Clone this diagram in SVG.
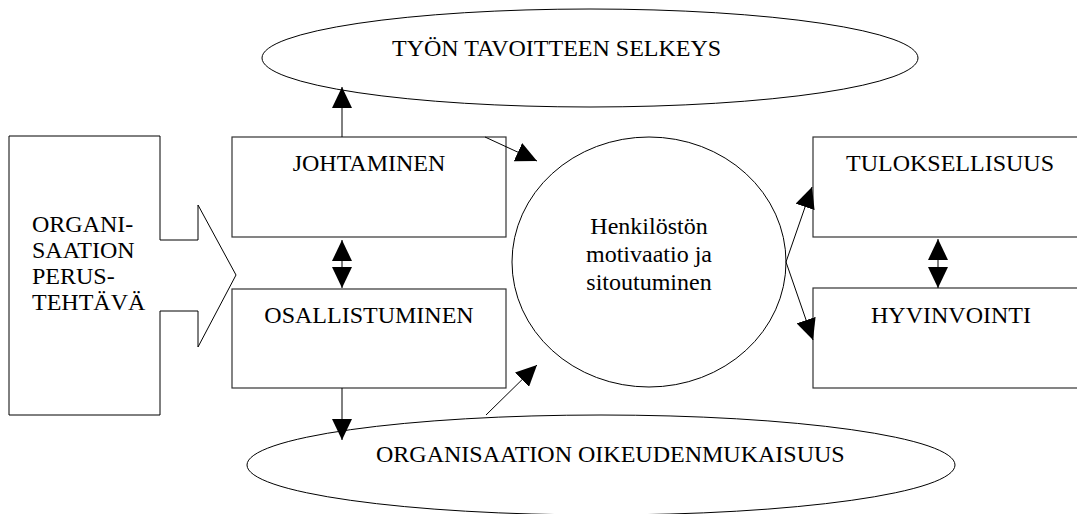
<svg xmlns="http://www.w3.org/2000/svg" width="1077" height="514" viewBox="0 0 1077 514">
  <style>
    .shape { fill: #ffffff; stroke: #000000; stroke-width: 1; }
    .box { fill: #ffffff; stroke: #333333; stroke-width: 1.2; }
    text { font-family: "Liberation Serif", "DejaVu Serif", serif; font-size: 24px; fill: #000000; }
    .mid { text-anchor: middle; }
    .conn { stroke: #000000; stroke-width: 1; fill: none; }
  </style>
  <defs>
    <marker id="head" markerUnits="userSpaceOnUse" markerWidth="21" markerHeight="20" refX="21" refY="10" orient="auto-start-reverse">
      <path d="M0,0 L21,10 L0,20 z" fill="#000000"/>
    </marker>
  </defs>

  <rect width="1077" height="514" fill="#ffffff"/>

  <g font-family="Liberation Serif, DejaVu Serif, serif" font-size="24">
    <!-- top goal ellipse -->
    <g id="node-tavoite">
      <ellipse class="shape" cx="590" cy="58" rx="328" ry="49"/>
      <text x="392" y="56">TYÖN TAVOITTEEN SELKEYS</text>
    </g>

    <!-- bottom fairness ellipse -->
    <g id="node-oikeudenmukaisuus">
      <ellipse class="shape" cx="601" cy="465" rx="354" ry="50"/>
      <text x="376" y="462">ORGANISAATION OIKEUDENMUKAISUUS</text>
    </g>

    <!-- basic task: box with arrow notch -->
    <g id="node-perustehtava">
      <path class="shape" d="M9,136 L160,136 L160,240 L198,240 L198,205 L236,275 L198,347 L198,311 L160,311 L160,415 L9,415 Z"/>
      <text x="32" y="232">ORGANI-</text>
      <text x="32" y="258">SAATION</text>
      <text x="32" y="284">PERUS-</text>
      <text x="32" y="310">TEHTÄVÄ</text>
    </g>

    <g id="node-johtaminen">
      <rect class="box" x="232" y="137" width="274" height="100"/>
      <text class="mid" x="369" y="171">JOHTAMINEN</text>
    </g>

    <g id="node-osallistuminen">
      <rect class="box" x="232" y="289" width="274" height="99"/>
      <text class="mid" x="369" y="323">OSALLISTUMINEN</text>
    </g>

    <g id="node-motivaatio">
      <ellipse class="shape" cx="649" cy="262" rx="137" ry="125"/>
      <text class="mid" x="649" y="234">Henkilöstön</text>
      <text class="mid" x="649" y="262">motivaatio ja</text>
      <text class="mid" x="649" y="290">sitoutuminen</text>
    </g>

    <g id="node-tuloksellisuus">
      <rect class="box" x="813" y="137" width="274" height="100"/>
      <text class="mid" x="950" y="171">TULOKSELLISUUS</text>
    </g>

    <g id="node-hyvinvointi">
      <rect class="box" x="813" y="288" width="274" height="100"/>
      <text class="mid" x="951" y="323">HYVINVOINTI</text>
    </g>
  </g>

  <!-- connectors -->
  <g id="connectors">
    <line class="conn" x1="342" y1="137" x2="342" y2="87" marker-end="url(#head)"/>
    <line class="conn" x1="485" y1="137" x2="537" y2="161" marker-end="url(#head)"/>
    <line class="conn" x1="342" y1="240" x2="342" y2="288" marker-start="url(#head)" marker-end="url(#head)"/>
    <line class="conn" x1="342" y1="388" x2="342" y2="440" marker-end="url(#head)"/>
    <line class="conn" x1="486" y1="415" x2="537" y2="365" marker-end="url(#head)"/>
    <line class="conn" x1="786" y1="262" x2="812" y2="187" marker-end="url(#head)"/>
    <line class="conn" x1="786" y1="262" x2="813" y2="340" marker-end="url(#head)"/>
    <line class="conn" x1="938" y1="239" x2="938" y2="288" marker-start="url(#head)" marker-end="url(#head)"/>
  </g>
</svg>
